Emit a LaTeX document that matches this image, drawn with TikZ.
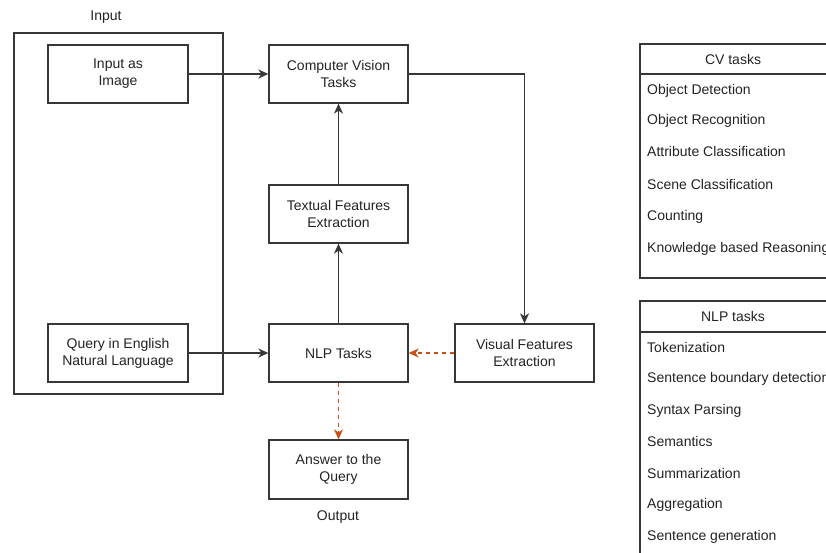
\documentclass[tikz,border=0pt]{standalone}
\usepackage{fontspec}
\setmainfont{Liberation Sans}
\usetikzlibrary{arrows.meta}
\definecolor{ln}{RGB}{55,55,55}
\definecolor{txt}{RGB}{35,35,35}
\definecolor{org}{RGB}{200,80,20}
\tikzset{
  box/.style={draw=ln, line width=1.3pt, minimum width=140pt, minimum height=58pt, inner sep=0pt, align=center, text=txt, font=\fontsize{14}{17}\selectfont},
  arr/.style={draw=ln, line width=1.3pt, -{Stealth[length=10pt,width=9pt,inset=3pt]}},
  darr/.style={draw=org, line width=1.3pt, dash pattern=on 4pt off 4pt, -{Stealth[length=10pt,width=9pt,inset=3pt]}},
  lbl/.style={text=txt, font=\fontsize{14}{17}\selectfont, inner sep=0pt},
  item/.style={text=txt, font=\fontsize{14}{17}\selectfont, inner sep=0pt, anchor=west},
}
\begin{document}
\begin{tikzpicture}[x=1pt,y=-1pt]
\useasboundingbox (0,0) rectangle (826,553);
\clip (0,0) rectangle (826,553);
% outer input box
\node[draw=ln, line width=1.3pt, minimum width=209pt, minimum height=361pt, inner sep=0pt] (inbox) at (118.5,213.5) {};
\node[lbl] (inlbl) at (106,17) {Input};
% boxes
\node[box] (img) at (118,74) {Input as\\Image};
\node[box] (qry) at (118,353) {Query in English\\Natural Language};
\node[box, minimum width=139pt] (cv) at (338.5,74) {Computer Vision\\Tasks};
\node[box, minimum width=139pt] (tfe) at (338.5,214) {Textual Features\\Extraction};
\node[box, minimum width=139pt] (nlp) at (338.5,353) {NLP Tasks};
\node[box, minimum width=139pt] (vfe) at (524.5,353) {Visual Features\\Extraction};
\node[box, minimum width=139pt, minimum height=59pt] (ans) at (338.5,469.5) {Answer to the\\Query};
\node[lbl] (outlbl) at (338,517) {Output};
% connectors
\draw[arr] (img) -- (cv);
\draw[arr] (qry) -- (nlp);
\draw[arr] (nlp) -- (tfe);
\draw[arr] (tfe) -- (cv);
\draw[arr] (cv.east) -| (vfe.north);
\draw[darr] (vfe) -- (nlp);
\draw[darr] (nlp) -- (ans);
% CV tasks table
\draw[ln, line width=1.3pt] (900,44) -- (640,44) -- (640,278) -- (900,278);
\draw[ln, line width=1.3pt] (640,74) -- (900,74);
\node[lbl] (cvh) at (733,59) {CV tasks};
\node[item] (cv1) at (647,91) {Object Detection};
\node[item] (cv2) at (647,121) {Object Recognition};
\node[item] (cv3) at (647,151) {Attribute Classification};
\node[item] (cv4) at (647,184) {Scene Classification};
\node[item] (cv5) at (647,217) {Counting};
\node[item] (cv6) at (647,249) {Knowledge based Reasoning};
% NLP tasks table
\draw[ln, line width=1.3pt] (900,301) -- (640,301) -- (640,600);
\draw[ln, line width=1.3pt] (640,332) -- (900,332);
\node[lbl] (nlph) at (733,316.5) {NLP tasks};
\node[item] (n1) at (647,347) {Tokenization};
\node[item] (n2) at (647,379) {Sentence boundary detection};
\node[item] (n3) at (647,411) {Syntax Parsing};
\node[item] (n4) at (647,441) {Semantics};
\node[item] (n5) at (647,473) {Summarization};
\node[item] (n6) at (647,505) {Aggregation};
\node[item] (n7) at (647,537) {Sentence generation};
\end{tikzpicture}
\end{document}
